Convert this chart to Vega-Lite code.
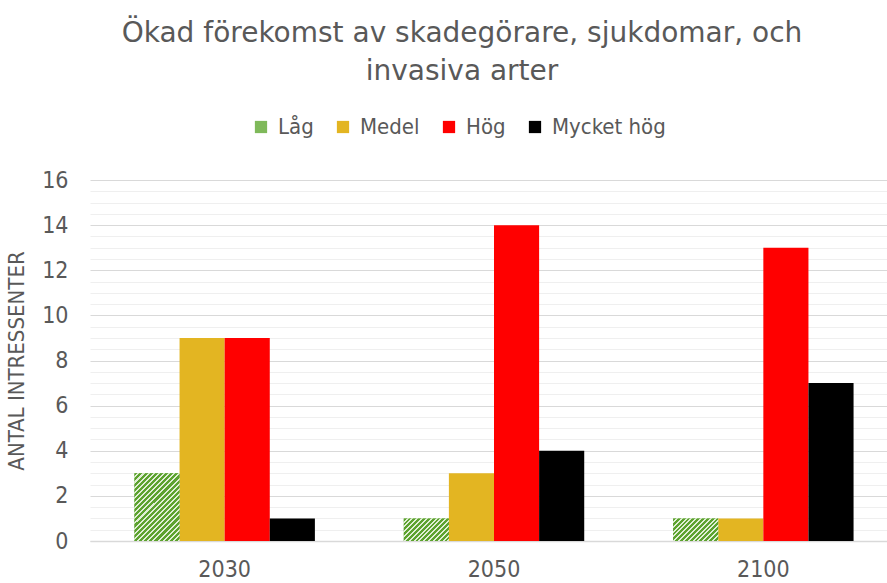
{
  "$schema": "https://vega.github.io/schema/vega-lite/v6.json",
  "autosize": "none",
  "width": 808,
  "height": 361,
  "padding": {"left": 90, "top": 180, "right": 0, "bottom": 42},
  "background": "white",
  "config": {
    "font": "DejaVu Sans Condensed",
    "view": {"stroke": null}
  },
  "title": {
    "text": ["Ökad förekomst av skadegörare, sjukdomar, och", "invasiva arter"],
    "anchor": "middle",
    "frame": "group",
    "dx": -32,
    "offset": 30,
    "font": "DejaVu Sans",
    "fontSize": 28,
    "fontWeight": "normal",
    "color": "#595959",
    "lineHeight": 38
  },
  "data": {
    "values": [
      {"year": "2030", "cat": "Låg", "value": 3},
      {"year": "2030", "cat": "Medel", "value": 9},
      {"year": "2030", "cat": "Hög", "value": 9},
      {"year": "2030", "cat": "Mycket hög", "value": 1},
      {"year": "2050", "cat": "Låg", "value": 1},
      {"year": "2050", "cat": "Medel", "value": 3},
      {"year": "2050", "cat": "Hög", "value": 14},
      {"year": "2050", "cat": "Mycket hög", "value": 4},
      {"year": "2100", "cat": "Låg", "value": 1},
      {"year": "2100", "cat": "Medel", "value": 1},
      {"year": "2100", "cat": "Hög", "value": 13},
      {"year": "2100", "cat": "Mycket hög", "value": 7}
    ]
  },
  "layer": [
    {
      "mark": {"type": "bar", "opacity": 0},
      "encoding": {
        "x": {"field": "year", "type": "nominal", "scale": {"paddingInner": 0.33, "paddingOuter": 0.165},
              "axis": {"title": null, "labelAngle": 0, "labelFontSize": 23, "labelColor": "#595959", "labelPadding": 17, "ticks": false, "domainColor": "#D9D9D9", "domainWidth": 1.5}},
        "xOffset": {"field": "cat", "type": "nominal", "sort": ["Låg", "Medel", "Hög", "Mycket hög"], "scale": {"paddingInner": 0, "paddingOuter": 0}},
        "y": {"field": "value", "type": "quantitative", "scale": {"domain": [0, 16], "nice": false},
              "axis": {"orient": "right", "values": [0.5, 1, 1.5, 2.5, 3, 3.5, 4.5, 5, 5.5, 6.5, 7, 7.5, 8.5, 9, 9.5, 10.5, 11, 11.5, 12.5, 13, 13.5, 14.5, 15, 15.5],
                       "grid": true, "gridColor": "#EFEFEF", "gridWidth": 1, "labels": false, "ticks": false, "domain": false, "title": null}}
      }
    },
    {
      "mark": {"type": "bar"},
      "encoding": {
        "x": {"field": "year", "type": "nominal"},
        "xOffset": {"field": "cat", "type": "nominal", "sort": ["Låg", "Medel", "Hög", "Mycket hög"]},
        "y": {"field": "value", "type": "quantitative",
              "axis": {"values": [0, 2, 4, 6, 8, 10, 12, 14, 16], "grid": true, "gridColor": "#D9D9D9", "gridWidth": 1,
                       "ticks": false, "domain": false, "labelFontSize": 23, "labelColor": "#595959", "labelPadding": 22,
                       "title": "ANTAL INTRESSENTER", "titleFontSize": 22, "titleFontWeight": "normal", "titleColor": "#595959", "titlePadding": 13}},
        "color": {
          "field": "cat", "type": "nominal",
          "sort": ["Låg", "Medel", "Hög", "Mycket hög"],
          "scale": {
            "domain": ["Låg", "Medel", "Hög", "Mycket hög"],
            "range": ["#7FB95A", "#E3B522", "#FF0000", "#000000"]
          },
          "legend": {
            "title": null, "orient": "none", "legendX": 160, "legendY": -64, "direction": "horizontal",
            "symbolType": "square", "symbolSize": 150, "symbolStrokeWidth": 0,
            "labelFontSize": 22, "labelColor": "#595959", "columnPadding": 18, "labelOffset": 6
          }
        }
      }
    },
    {
      "transform": [{"filter": "datum.cat === 'Låg'"}],
      "mark": {"type": "bar"},
      "encoding": {
        "x": {"field": "year", "type": "nominal"},
        "xOffset": {"field": "cat", "type": "nominal", "sort": ["Låg", "Medel", "Hög", "Mycket hög"]},
        "y": {"field": "value", "type": "quantitative", "axis": null},
        "color": {
          "condition": {
            "test": "datum.value > 2",
            "value": {"gradient": "linear", "x1": 0, "y1": 0, "x2": 0.768, "y2": 1.155, "stops": [
              {"offset": 0, "color": "#5CA22E"}, {"offset": 0.0273, "color": "#5CA22E"}, {"offset": 0.0273, "color": "#E0EED5"}, {"offset": 0.0455, "color": "#E0EED5"},
              {"offset": 0.0455, "color": "#5CA22E"}, {"offset": 0.0727, "color": "#5CA22E"}, {"offset": 0.0727, "color": "#E0EED5"}, {"offset": 0.0909, "color": "#E0EED5"},
              {"offset": 0.0909, "color": "#5CA22E"}, {"offset": 0.1182, "color": "#5CA22E"}, {"offset": 0.1182, "color": "#E0EED5"}, {"offset": 0.1364, "color": "#E0EED5"},
              {"offset": 0.1364, "color": "#5CA22E"}, {"offset": 0.1636, "color": "#5CA22E"}, {"offset": 0.1636, "color": "#E0EED5"}, {"offset": 0.1818, "color": "#E0EED5"},
              {"offset": 0.1818, "color": "#5CA22E"}, {"offset": 0.2091, "color": "#5CA22E"}, {"offset": 0.2091, "color": "#E0EED5"}, {"offset": 0.2273, "color": "#E0EED5"},
              {"offset": 0.2273, "color": "#5CA22E"}, {"offset": 0.2545, "color": "#5CA22E"}, {"offset": 0.2545, "color": "#E0EED5"}, {"offset": 0.2727, "color": "#E0EED5"},
              {"offset": 0.2727, "color": "#5CA22E"}, {"offset": 0.3, "color": "#5CA22E"}, {"offset": 0.3, "color": "#E0EED5"}, {"offset": 0.3182, "color": "#E0EED5"},
              {"offset": 0.3182, "color": "#5CA22E"}, {"offset": 0.3455, "color": "#5CA22E"}, {"offset": 0.3455, "color": "#E0EED5"}, {"offset": 0.3636, "color": "#E0EED5"},
              {"offset": 0.3636, "color": "#5CA22E"}, {"offset": 0.3909, "color": "#5CA22E"}, {"offset": 0.3909, "color": "#E0EED5"}, {"offset": 0.4091, "color": "#E0EED5"},
              {"offset": 0.4091, "color": "#5CA22E"}, {"offset": 0.4364, "color": "#5CA22E"}, {"offset": 0.4364, "color": "#E0EED5"}, {"offset": 0.4545, "color": "#E0EED5"},
              {"offset": 0.4545, "color": "#5CA22E"}, {"offset": 0.4818, "color": "#5CA22E"}, {"offset": 0.4818, "color": "#E0EED5"}, {"offset": 0.5, "color": "#E0EED5"},
              {"offset": 0.5, "color": "#5CA22E"}, {"offset": 0.5273, "color": "#5CA22E"}, {"offset": 0.5273, "color": "#E0EED5"}, {"offset": 0.5455, "color": "#E0EED5"},
              {"offset": 0.5455, "color": "#5CA22E"}, {"offset": 0.5727, "color": "#5CA22E"}, {"offset": 0.5727, "color": "#E0EED5"}, {"offset": 0.5909, "color": "#E0EED5"},
              {"offset": 0.5909, "color": "#5CA22E"}, {"offset": 0.6182, "color": "#5CA22E"}, {"offset": 0.6182, "color": "#E0EED5"}, {"offset": 0.6364, "color": "#E0EED5"},
              {"offset": 0.6364, "color": "#5CA22E"}, {"offset": 0.6636, "color": "#5CA22E"}, {"offset": 0.6636, "color": "#E0EED5"}, {"offset": 0.6818, "color": "#E0EED5"},
              {"offset": 0.6818, "color": "#5CA22E"}, {"offset": 0.7091, "color": "#5CA22E"}, {"offset": 0.7091, "color": "#E0EED5"}, {"offset": 0.7273, "color": "#E0EED5"},
              {"offset": 0.7273, "color": "#5CA22E"}, {"offset": 0.7545, "color": "#5CA22E"}, {"offset": 0.7545, "color": "#E0EED5"}, {"offset": 0.7727, "color": "#E0EED5"},
              {"offset": 0.7727, "color": "#5CA22E"}, {"offset": 0.8, "color": "#5CA22E"}, {"offset": 0.8, "color": "#E0EED5"}, {"offset": 0.8182, "color": "#E0EED5"},
              {"offset": 0.8182, "color": "#5CA22E"}, {"offset": 0.8455, "color": "#5CA22E"}, {"offset": 0.8455, "color": "#E0EED5"}, {"offset": 0.8636, "color": "#E0EED5"},
              {"offset": 0.8636, "color": "#5CA22E"}, {"offset": 0.8909, "color": "#5CA22E"}, {"offset": 0.8909, "color": "#E0EED5"}, {"offset": 0.9091, "color": "#E0EED5"},
              {"offset": 0.9091, "color": "#5CA22E"}, {"offset": 0.9364, "color": "#5CA22E"}, {"offset": 0.9364, "color": "#E0EED5"}, {"offset": 0.9545, "color": "#E0EED5"},
              {"offset": 0.9545, "color": "#5CA22E"}, {"offset": 0.9818, "color": "#5CA22E"}, {"offset": 0.9818, "color": "#E0EED5"}, {"offset": 1, "color": "#E0EED5"}]}
          },
          "value": {"gradient": "linear", "x1": 0, "y1": 0, "x2": 1.2, "y2": 0.6, "stops": [
            {"offset": 0, "color": "#5CA22E"}, {"offset": 0.0429, "color": "#5CA22E"}, {"offset": 0.0429, "color": "#E0EED5"}, {"offset": 0.0714, "color": "#E0EED5"},
            {"offset": 0.0714, "color": "#5CA22E"}, {"offset": 0.1143, "color": "#5CA22E"}, {"offset": 0.1143, "color": "#E0EED5"}, {"offset": 0.1429, "color": "#E0EED5"},
            {"offset": 0.1429, "color": "#5CA22E"}, {"offset": 0.1857, "color": "#5CA22E"}, {"offset": 0.1857, "color": "#E0EED5"}, {"offset": 0.2143, "color": "#E0EED5"},
            {"offset": 0.2143, "color": "#5CA22E"}, {"offset": 0.2571, "color": "#5CA22E"}, {"offset": 0.2571, "color": "#E0EED5"}, {"offset": 0.2857, "color": "#E0EED5"},
            {"offset": 0.2857, "color": "#5CA22E"}, {"offset": 0.3286, "color": "#5CA22E"}, {"offset": 0.3286, "color": "#E0EED5"}, {"offset": 0.3571, "color": "#E0EED5"},
            {"offset": 0.3571, "color": "#5CA22E"}, {"offset": 0.4, "color": "#5CA22E"}, {"offset": 0.4, "color": "#E0EED5"}, {"offset": 0.4286, "color": "#E0EED5"},
            {"offset": 0.4286, "color": "#5CA22E"}, {"offset": 0.4714, "color": "#5CA22E"}, {"offset": 0.4714, "color": "#E0EED5"}, {"offset": 0.5, "color": "#E0EED5"},
            {"offset": 0.5, "color": "#5CA22E"}, {"offset": 0.5429, "color": "#5CA22E"}, {"offset": 0.5429, "color": "#E0EED5"}, {"offset": 0.5714, "color": "#E0EED5"},
            {"offset": 0.5714, "color": "#5CA22E"}, {"offset": 0.6143, "color": "#5CA22E"}, {"offset": 0.6143, "color": "#E0EED5"}, {"offset": 0.6429, "color": "#E0EED5"},
            {"offset": 0.6429, "color": "#5CA22E"}, {"offset": 0.6857, "color": "#5CA22E"}, {"offset": 0.6857, "color": "#E0EED5"}, {"offset": 0.7143, "color": "#E0EED5"},
            {"offset": 0.7143, "color": "#5CA22E"}, {"offset": 0.7571, "color": "#5CA22E"}, {"offset": 0.7571, "color": "#E0EED5"}, {"offset": 0.7857, "color": "#E0EED5"},
            {"offset": 0.7857, "color": "#5CA22E"}, {"offset": 0.8286, "color": "#5CA22E"}, {"offset": 0.8286, "color": "#E0EED5"}, {"offset": 0.8571, "color": "#E0EED5"},
            {"offset": 0.8571, "color": "#5CA22E"}, {"offset": 0.9, "color": "#5CA22E"}, {"offset": 0.9, "color": "#E0EED5"}, {"offset": 0.9286, "color": "#E0EED5"},
            {"offset": 0.9286, "color": "#5CA22E"}, {"offset": 0.9714, "color": "#5CA22E"}, {"offset": 0.9714, "color": "#E0EED5"}, {"offset": 1, "color": "#E0EED5"}]}
        }
      }
    }
  ],
  "resolve": {"axis": {"y": "independent"}}
}
